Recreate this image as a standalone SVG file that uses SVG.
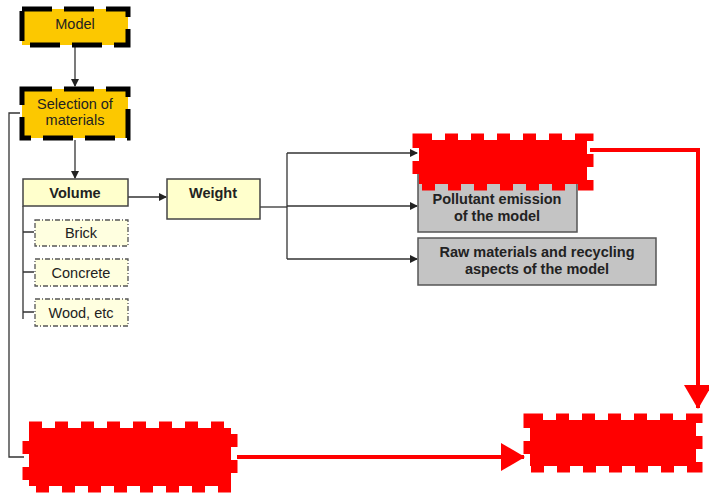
<svg xmlns="http://www.w3.org/2000/svg" width="709" height="495" viewBox="0 0 709 495">
<style>
text{font-family:"Liberation Sans",Arial,sans-serif;font-size:14.5px;fill:#222;text-anchor:middle}
.b{font-weight:bold}
.gold{fill:#FCC800;stroke:#000;stroke-width:5;stroke-dasharray:30 12}
.yel{fill:#FFFFCC;stroke:#444;stroke-width:1.5}
.sub{fill:#FFFFE0;stroke:#555;stroke-width:1.3;stroke-dasharray:5 2 1 2}
.gray{fill:#C4C4C4;stroke:#555;stroke-width:1.5}
.red{fill:#FF0000;stroke:#FF0000;stroke-width:13;stroke-dasharray:13 13}
.ln{fill:none;stroke:#333;stroke-width:1.3}
.rl{fill:none;stroke:#FF0000;stroke-width:4}
</style>
<defs>
<marker id="a" markerWidth="8" markerHeight="8" refX="7" refY="4" orient="auto" markerUnits="userSpaceOnUse"><path d="M0,0 L8,4 L0,8 Z" fill="#222"/></marker>
<marker id="r" markerWidth="24" markerHeight="28" refX="23" refY="14" orient="auto" markerUnits="userSpaceOnUse"><path d="M0,0 L24,14 L0,28 Z" fill="#FF0000"/></marker>
</defs>
<g id="connectors">
<path class="ln" d="M75,47 V86" marker-end="url(#a)"/>
<path class="ln" d="M75,140 V178" marker-end="url(#a)"/>
<path class="ln" d="M20,113 H9 V457 H24"/>
<path class="ln" d="M128,197 H166" marker-end="url(#a)"/>
<path class="ln" d="M23,206 V319 M23,232 H34 M23,272 H34 M23,312 H34"/>
<path class="ln" d="M260,207 H287"/>
<path class="ln" d="M287,153 V259"/>
<path class="ln" d="M287,153 H417" marker-end="url(#a)"/>
<path class="ln" d="M287,206 H417" marker-end="url(#a)"/>
<path class="ln" d="M287,259 H417" marker-end="url(#a)"/>
<path class="rl" d="M590,150 H698 V408" marker-end="url(#r)"/>
<path class="rl" d="M237,457 H524" marker-end="url(#r)"/>
</g>
<g id="model"><rect class="gold" x="22" y="9" width="106" height="36"/><text x="75" y="29">Model</text></g>
<g id="selection"><rect class="gold" x="22" y="89" width="106" height="49"/><text x="75" y="109">Selection of</text><text x="75" y="125">materials</text></g>
<g id="volume"><rect class="yel" x="23" y="179" width="105" height="27"/><text class="b" x="75" y="198">Volume</text></g>
<g id="weight"><rect class="yel" x="167" y="179" width="93" height="40"/><text class="b" x="213" y="198">Weight</text></g>
<g id="brick"><rect class="sub" x="35" y="220" width="93" height="26"/><text x="81" y="238">Brick</text></g>
<g id="concrete"><rect class="sub" x="35" y="259" width="93" height="27"/><text x="81" y="278">Concrete</text></g>
<g id="wood"><rect class="sub" x="35" y="299" width="93" height="27"/><text x="81" y="318">Wood, etc</text></g>
<g id="pollutant"><rect class="gray" x="418" y="172" width="159" height="60"/><text class="b" x="497" y="204">Pollutant emission</text><text class="b" x="497" y="221">of the model</text></g>
<g id="raw"><rect class="gray" x="418" y="238" width="238" height="47"/><text class="b" x="537" y="257">Raw materials and recycling</text><text class="b" x="537" y="274">aspects of the model</text></g>
<g id="red-top"><rect class="red" x="419" y="140" width="168" height="44"/></g>
<g id="red-bl"><rect class="red" x="29" y="428" width="202" height="58"/></g>
<g id="red-br"><rect class="red" x="530" y="420" width="166" height="46"/></g>
</svg>
